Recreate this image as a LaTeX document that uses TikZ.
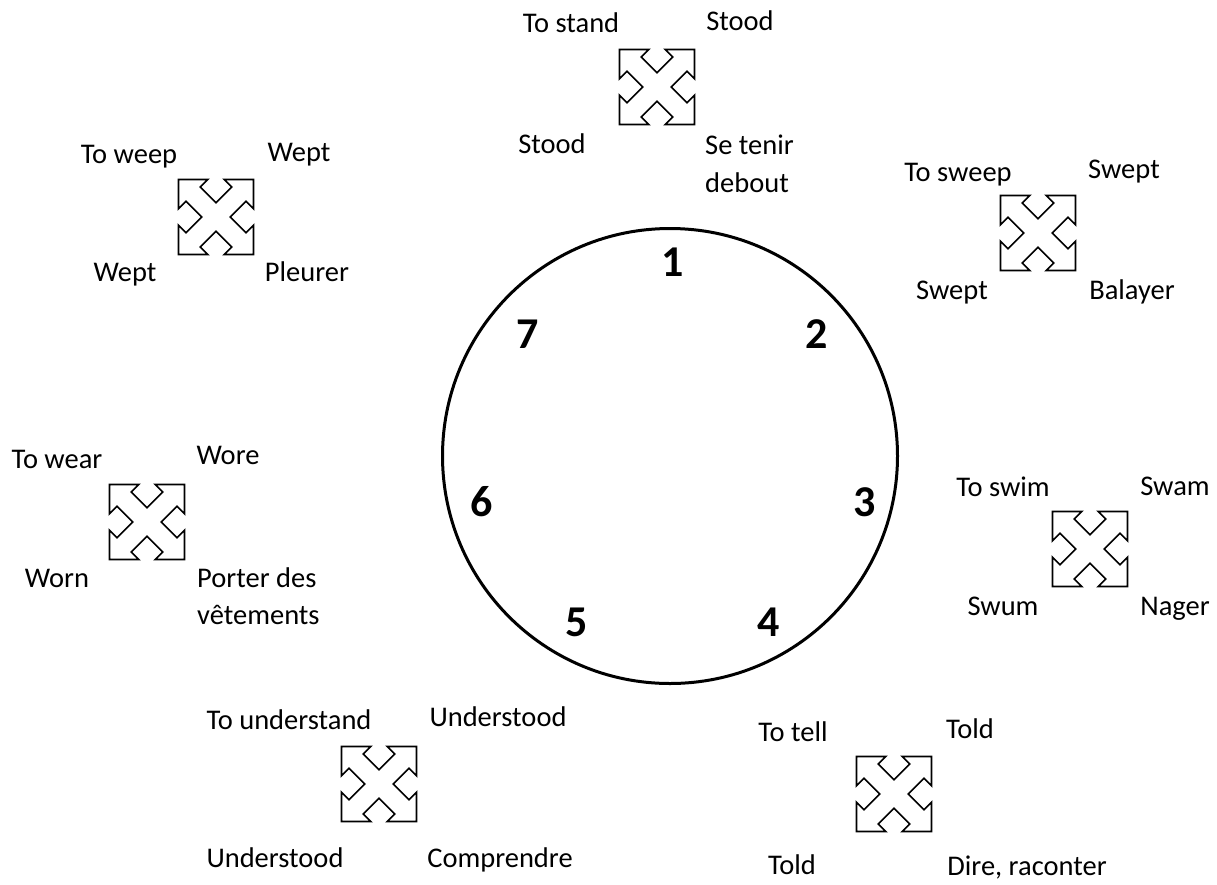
\documentclass[tikz,border=0pt]{standalone}
\usepackage{fontspec}
\setmainfont{Carlito}
\begin{document}
\begin{tikzpicture}[x=1pt,y=-1pt,
  lbl/.style={font=\fontsize{28.5}{34}\selectfont, inner sep=0pt, text height=18pt, text depth=0pt},
  num/.style={font=\fontsize{44}{52}\selectfont\bfseries, inner sep=0pt, text height=28pt, text depth=0pt},
  ring/.style={draw, line width=3pt},
  quadarrow/.pic={
    \draw[line width=1.7pt, line join=miter, x=75pt, y=75pt, shift={(-0.5,-0.5)}]
      (0,0) -- (0.39,0) -- (0.29,0.1) -- (0.5,0.31) -- (0.71,0.1) -- (0.61,0) -- (1,0)
      -- (1,0.39) -- (0.9,0.29) -- (0.69,0.5) -- (0.9,0.71) -- (1,0.61) -- (1,1)
      -- (0.61,1) -- (0.71,0.9) -- (0.5,0.69) -- (0.29,0.9) -- (0.39,1) -- (0,1)
      -- (0,0.61) -- (0.1,0.71) -- (0.31,0.5) -- (0.1,0.29) -- (0,0.39) -- cycle;
  }]
\useasboundingbox (0,0) rectangle (1217,884);

% central circle
\node[ring, circle, minimum size=455pt, inner sep=0pt] (clock) at (670,456) {};
\node[num] (n1) at (673,262) {1};
\node[num] (n2) at (817,334) {2};
\node[num] (n3) at (865,502) {3};
\node[num] (n4) at (769,622) {4};
\node[num] (n5) at (577,622) {5};
\node[num] (n6) at (482,502) {6};
\node[num] (n7) at (528,334) {7};

% 1 stand
\coordinate (i1) at (657,87);
\pic at (i1) {quadarrow};
\node[lbl] (s1a) at (571,23) {To stand};
\node[lbl] (s1b) at (740,21) {Stood};
\node[lbl] (s1c) at (552,144) {Stood};
\node[lbl, anchor=west] (s1d) at (705,145) {Se tenir};
\node[lbl, anchor=west] (s1e) at (705,183) {debout};

% 2 sweep
\coordinate (i2) at (1038,233);
\pic at (i2) {quadarrow};
\node[lbl] (s2a) at (958,172) {To sweep};
\node[lbl] (s2b) at (1124,169) {Swept};
\node[lbl] (s2c) at (952,290) {Swept};
\node[lbl] (s2d) at (1132,290) {Balayer};

% 3 swim
\coordinate (i3) at (1090,549);
\pic at (i3) {quadarrow};
\node[lbl] (s3a) at (1003,487) {To swim};
\node[lbl] (s3b) at (1175,486) {Swam};
\node[lbl] (s3c) at (1003,606) {Swum};
\node[lbl] (s3d) at (1175,606) {Nager};

% 4 tell
\coordinate (i4) at (894,794);
\pic at (i4) {quadarrow};
\node[lbl] (s4a) at (793,732) {To tell};
\node[lbl] (s4b) at (970,729) {Told};
\node[lbl] (s4c) at (792,865) {Told};
\node[lbl] (s4d) at (1027,866) {Dire, raconter};

% 5 understand
\coordinate (i5) at (379,784);
\pic at (i5) {quadarrow};
\node[lbl] (s5a) at (289,720) {To understand};
\node[lbl] (s5b) at (498,717) {Understood};
\node[lbl] (s5c) at (275,858) {Understood};
\node[lbl] (s5d) at (500,858) {Comprendre};

% 6 wear
\coordinate (i6) at (147,522);
\pic at (i6) {quadarrow};
\node[lbl] (s6a) at (57,459) {To wear};
\node[lbl] (s6b) at (228,455) {Wore};
\node[lbl] (s6c) at (57,578) {Worn};
\node[lbl, anchor=west] (s6d) at (197,578) {Porter des};
\node[lbl, anchor=west] (s6e) at (197,615) {vêtements};

% 7 weep
\coordinate (i7) at (216,217);
\pic at (i7) {quadarrow};
\node[lbl] (s7a) at (129,154) {To weep};
\node[lbl] (s7b) at (299,152) {Wept};
\node[lbl] (s7c) at (125,272) {Wept};
\node[lbl] (s7d) at (307,272) {Pleurer};
\end{tikzpicture}
\end{document}
